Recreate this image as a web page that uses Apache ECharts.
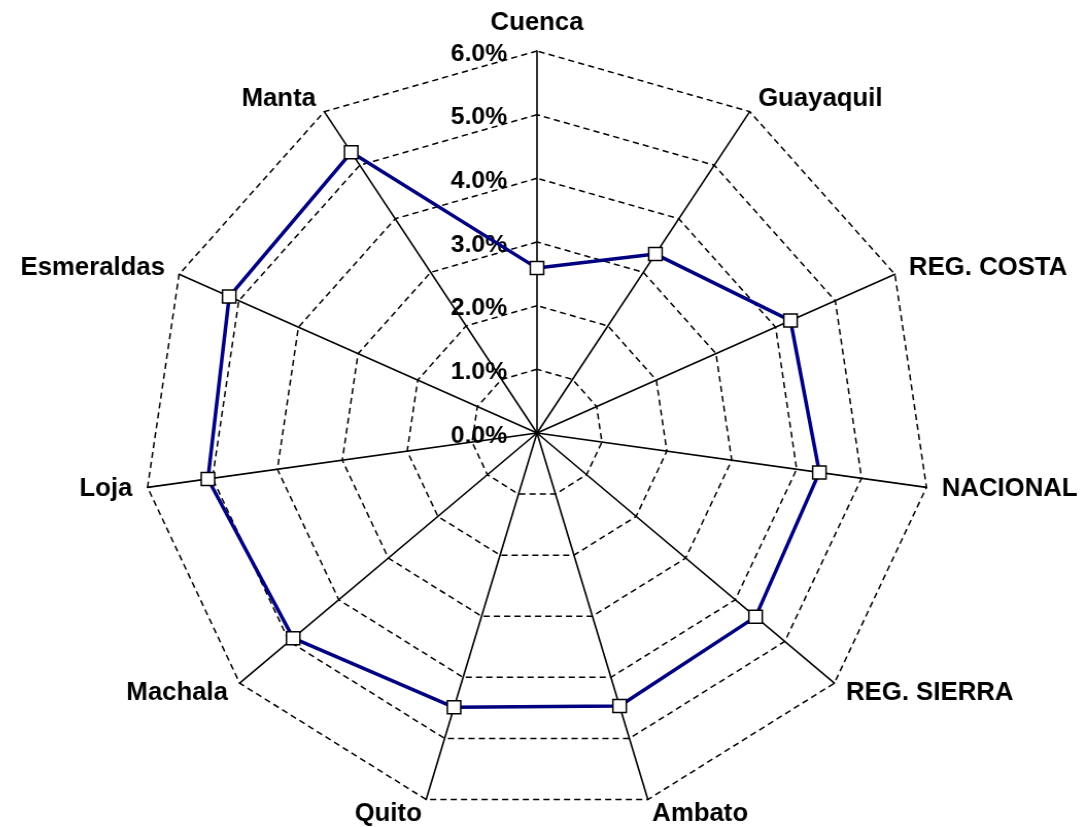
<!DOCTYPE html>
<html>
<head>
<meta charset="utf-8">
<script src="https://cdn.jsdelivr.net/npm/echarts@6/dist/echarts.min.js"></script>
<style>
html,body{margin:0;padding:0;background:#fff;overflow:hidden;}
#chart{width:1086px;height:827px;transform:scaleX(1.03);transform-origin:537px 0;}
</style>
</head>
<body>
<div id="chart"></div>
<script>
// Categories listed clockwise from the top, as in the reference
const categories = ['Cuenca','Guayaquil','REG. COSTA','NACIONAL','REG. SIERRA','Ambato','Quito','Machala','Loja','Esmeraldas','Manta'];
const values = [2.59, 3.34, 4.25, 4.35, 4.41, 4.47, 4.49, 4.92, 5.07, 5.16, 5.24];
const tickValues = [0, 1, 2, 3, 4, 5, 6];
const axisMax = 6;

// ECharts radar places indicators counter-clockwise; reorder to draw clockwise
const order = [0].concat(categories.map((_, i) => i).slice(1).reverse());
const indicators = order.map(i => ({ name: categories[i], max: axisMax, min: 0 }));
const seriesValues = order.map(i => values[i]);

const FONT = "'Liberation Sans', Arial, sans-serif";
const CENTER = [537, 433];
const RADIUS = 382;

const chart = echarts.init(document.getElementById('chart'));
chart.setOption({
  animation: false,
  backgroundColor: '#fff',
  radar: {
    center: CENTER,
    radius: RADIUS,
    startAngle: 90,
    shape: 'polygon',
    splitNumber: tickValues.length - 1,
    indicator: indicators,
    axisName: {
      color: '#000',
      fontFamily: FONT,
      fontWeight: 'bold',
      fontSize: 25
    },
    nameGap: 15,
    axisLine: { lineStyle: { color: '#000', width: 1.6 } },
    splitLine: { lineStyle: { color: '#000', width: 1.5, type: [6, 4] } },
    splitArea: { show: false },
    axisTick: { show: false },
    axisLabel: { show: false }
  },
  polar: { center: CENTER, radius: RADIUS },
  angleAxis: { show: false, startAngle: 90, min: 0, max: 360 },
  radiusAxis: {
    min: tickValues[0],
    max: tickValues[tickValues.length - 1],
    interval: 1,
    axisLine: { show: false },
    axisTick: { show: false },
    splitLine: { show: false },
    axisLabel: {
      show: true,
      margin: 29,
      color: '#000',
      fontFamily: FONT,
      fontWeight: 'bold',
      fontSize: 24,
      verticalAlign: 'top',
      padding: [-9, 0, 0, 0],
      formatter: v => v.toFixed(1) + '%'
    }
  },
  series: [{
    type: 'radar',
    symbol: 'rect',
    symbolSize: 13,
    lineStyle: { color: '#000080', width: 3.5 },
    itemStyle: { color: '#fff', borderColor: '#000', borderWidth: 1.5 },
    data: [{ value: seriesValues }]
  }]
});
</script>
</body>
</html>
